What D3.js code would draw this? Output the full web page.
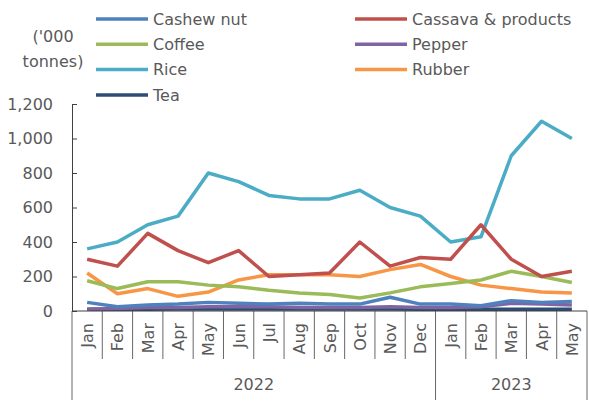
<!DOCTYPE html>
<html>
<head>
<meta charset="utf-8">
<script src="https://cdn.jsdelivr.net/npm/d3@7"></script>
<style>
  body { margin: 0; background: #fff; }
  svg text { font-family: "DejaVu Sans", sans-serif; fill: #595959; }
</style>
</head>
<body>
<div class="chart"></div>
<script>
// Data
const months = ['Jan','Feb','Mar','Apr','May','Jun','Jul','Aug','Sep','Oct','Nov','Dec','Jan','Feb','Mar','Apr','May'];
const years = [{ label: '2022', from: 0, to: 12 }, { label: '2023', from: 12, to: 17 }];
const yTicks = [0, 200, 400, 600, 800, 1000, 1200];

const cashew  = [50, 25, 35, 40, 50, 45, 40, 45, 40, 40, 80, 40, 40, 30, 60, 50, 55];
const cassava = [300, 260, 450, 350, 280, 350, 200, 210, 220, 400, 260, 310, 300, 500, 300, 200, 230];
const coffee  = [175, 130, 170, 170, 150, 140, 120, 105, 95, 75, 105, 140, 160, 180, 230, 200, 165];
const pepper  = [10, 15, 20, 20, 25, 25, 25, 20, 20, 20, 25, 20, 20, 25, 45, 40, 35];
const rice    = [360, 400, 500, 550, 800, 750, 670, 650, 650, 700, 600, 550, 400, 430, 900, 1100, 1000];
const rubber  = [220, 100, 130, 85, 110, 180, 210, 210, 210, 200, 240, 270, 200, 150, 130, 110, 105];
const tea     = [10, 10, 10, 12, 12, 12, 12, 12, 12, 12, 12, 10, 10, 10, 10, 10, 10];

const series = [
  { name: 'Cashew nut', color: '#4f81bd', values: cashew },
  { name: 'Cassava & products', color: '#c0504d', values: cassava },
  { name: 'Coffee', color: '#9bbb59', values: coffee },
  { name: 'Pepper', color: '#8064a2', values: pepper },
  { name: 'Rice', color: '#4bacc6', values: rice },
  { name: 'Rubber', color: '#f79646', values: rubber },
  { name: 'Tea', color: '#2c4d75', values: tea }
];

// 畫布
const width = 589, height = 412;
const plotLeft = 72, plotRight = 587, plotTop = 104, plotBottom = 311;
const fontSize = '16px';

const svg = d3.select('.chart').append('svg')
  .attr('width', width).attr('height', height);

const x = d3.scaleBand().domain(d3.range(months.length)).range([plotLeft, plotRight]);
const y = d3.scaleLinear().domain([0, 1200]).range([plotBottom, plotTop]);

// Y axis (刻度朝內)
const yAxis = d3.axisLeft(y).tickValues(yTicks).tickSizeInner(-5).tickSizeOuter(0)
  .tickPadding(19).tickFormat(d3.format(','));
const yg = svg.append('g').attr('transform', `translate(${plotLeft},0)`).call(yAxis);
yg.select('.domain').attr('stroke', '#404040');
yg.selectAll('.tick line').attr('stroke', '#404040');
yg.selectAll('text').style('font-size', fontSize).attr('fill', '#595959');

// lines
const lineGen = d3.line()
  .x((d, i) => x(i) + x.bandwidth() / 2)
  .y(d => y(d));

svg.append('g').selectAll('path').data(series.slice().reverse()).enter()
  .append('path')
  .attr('d', d => lineGen(d.values))
  .attr('fill', 'none')
  .attr('stroke', d => d.color)
  .attr('stroke-width', 3.5)
  .attr('stroke-linejoin', 'round');

// X axis
const xg = svg.append('g');
xg.append('line').attr('x1', plotLeft).attr('x2', plotRight).attr('y1', plotBottom).attr('y2', plotBottom)
  .attr('stroke', '#404040');
d3.range(months.length + 1).forEach(i => {
  const xx = i < months.length ? x(i) : plotRight;
  const isYear = years.some(yr => yr.from === i) || i === months.length;
  xg.append('line').attr('x1', xx).attr('x2', xx)
    .attr('y1', plotBottom).attr('y2', isYear ? 400 : 359)
    .attr('stroke', '#404040').attr('stroke-width', 0.8);
});
xg.selectAll('.month').data(months).enter().append('text')
  .attr('transform', (d, i) => `translate(${x(i) + x.bandwidth() / 2 + 6},${plotBottom + 12}) rotate(-90)`)
  .attr('text-anchor', 'end')
  .style('font-size', fontSize)
  .text(d => d);
xg.selectAll('.year').data(years).enter().append('text')
  .attr('x', d => (x(d.from) + (d.to < months.length ? x(d.to) : plotRight)) / 2)
  .attr('y', 390)
  .attr('text-anchor', 'middle')
  .style('font-size', fontSize)
  .text(d => d.label);

// unit label
const unit = svg.append('text').attr('text-anchor', 'middle').style('font-size', fontSize);
unit.append('tspan').attr('x', 53).attr('y', 42).text("('000");
unit.append('tspan').attr('x', 53).attr('y', 67).text('tonnes)');

// legend
const legendOrder = ['Cashew nut', 'Cassava & products', 'Coffee', 'Pepper', 'Rice', 'Rubber', 'Tea'];
const lg = svg.append('g').selectAll('g').data(legendOrder.map(n => series.find(s => s.name === n)))
  .enter().append('g')
  .attr('transform', (d, i) => `translate(${i % 2 === 0 ? 96 : 355},${19 + Math.floor(i / 2) * 25.3})`);
lg.append('line').attr('x1', 0).attr('x2', 52).attr('stroke', d => d.color).attr('stroke-width', 3.5);
lg.append('text').attr('x', 57).attr('dy', '0.35em').style('font-size', fontSize).text(d => d.name);
</script>
</body>
</html>
